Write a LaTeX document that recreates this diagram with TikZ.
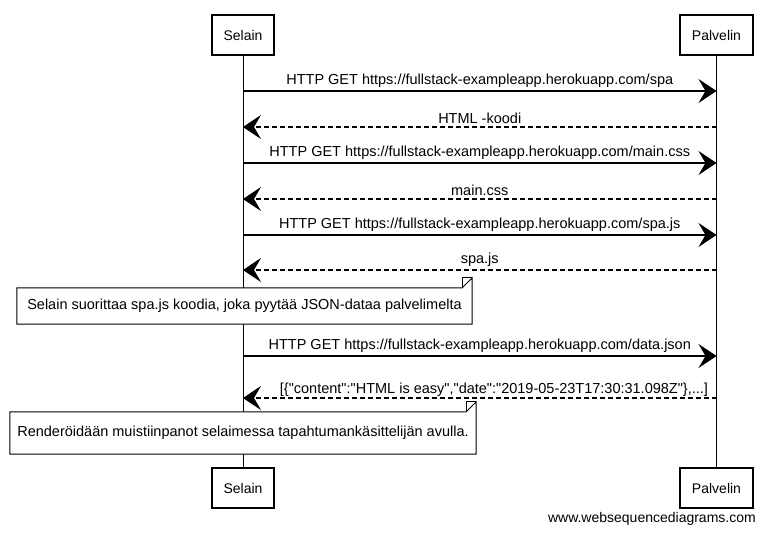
\documentclass[tikz,border=0pt]{standalone}
\usepackage{fontspec}
\setmainfont{Liberation Sans}
\usetikzlibrary{arrows.meta}
\newcommand{\dq}{\textquotedbl}
\begin{document}
\begin{tikzpicture}[x=1pt,y=-1pt,
  actor/.style={draw,line width=1.1pt,minimum width=62pt,minimum height=40pt,font=\fontsize{14}{16}\selectfont,inner sep=0pt},
  actorp/.style={actor,minimum width=73pt},
  life/.style={line width=0.8pt},
  msg/.style={line width=1.1pt,-{Stealth[length=18pt,width=24pt,inset=7pt]}},
  ret/.style={msg,dashed,dash pattern=on 5pt off 3pt},
  lbl/.style={font=\fontsize{14.5}{16}\selectfont,inner sep=1pt},
  notebox/.style={font=\fontsize{14.5}{16}\selectfont,inner sep=0pt}
]
\useasboundingbox (0,0) rectangle (766,533);
\fill[white] (0,0) rectangle (766,533);
% actors
\node[actor] (st) at (243,35) {Selain};
\node[actorp] (pt) at (716.5,35) {Palvelin};
\node[actor] (sb) at (243,488) {Selain};
\node[actorp] (pb) at (716.5,488) {Palvelin};
\draw[life] (st.south) -- (sb.north);
\draw[life] (pt.south) -- (pb.north);
% messages
\foreach \n/\y in {1/91,2/127,3/163,4/199,5/235,6/270,7/356,8/398}{
  \coordinate (s\n) at (243,\y);
  \coordinate (p\n) at (716.5,\y);
}
\draw[msg] (s1) -- (p1) node[lbl,midway,above=2pt] {HTTP GET https://fullstack-exampleapp.herokuapp.com/spa};
\draw[ret] (p2) -- (s2) node[lbl,midway,above=2pt] {HTML -koodi};
\draw[msg] (s3) -- (p3) node[lbl,midway,above=2pt] {HTTP GET https://fullstack-exampleapp.herokuapp.com/main.css};
\draw[ret] (p4) -- (s4) node[lbl,midway,above=2pt] {main.css};
\draw[msg] (s5) -- (p5) node[lbl,midway,above=2pt] {HTTP GET https://fullstack-exampleapp.herokuapp.com/spa.js};
\draw[ret] (p6) -- (s6) node[lbl,midway,above=2pt] {spa.js};
\draw[msg] (s7) -- (p7) node[lbl,midway,above=2pt] {HTTP GET https://fullstack-exampleapp.herokuapp.com/data.json};
\draw[ret] (p8) -- (s8) node[lbl,pos=0.47,above=0pt] {[\{\dq content\dq:\dq HTML is easy\dq,\dq date\dq:\dq 2019-05-23T17:30:31.098Z\dq\},...]};
% notes
\node[notebox,minimum width=455pt,minimum height=36pt] (n1) at (244.5,306) {Selain suorittaa spa.js koodia, joka pyytää JSON-dataa palvelimelta};
\node[notebox,minimum width=466pt,minimum height=42pt] (n2) at (243,433) {Renderöidään muistiinpanot selaimessa tapahtumankäsittelijän avulla.};
\foreach \nn in {n1,n2}{
  \fill[white,draw=black,line width=1pt] (\nn.south west) -- (\nn.north west) -- ([xshift=-10pt]\nn.north east) -- ([yshift=10pt]\nn.north east) -- (\nn.south east) -- cycle;
  \draw[line width=0.8pt] ([xshift=-10pt]\nn.north east) -- ([xshift=-10pt,yshift=10pt]\nn.north east) -- ([yshift=10pt]\nn.north east);
}
\node[notebox] at (n1) {Selain suorittaa spa.js koodia, joka pyytää JSON-dataa palvelimelta};
\node[notebox] at (n2) {Renderöidään muistiinpanot selaimessa tapahtumankäsittelijän avulla.};
% footer
\node[font=\fontsize{14}{16}\selectfont,inner sep=1pt,anchor=east] (ft) at (757,519) {www.websequencediagrams.com};
\end{tikzpicture}
\end{document}
